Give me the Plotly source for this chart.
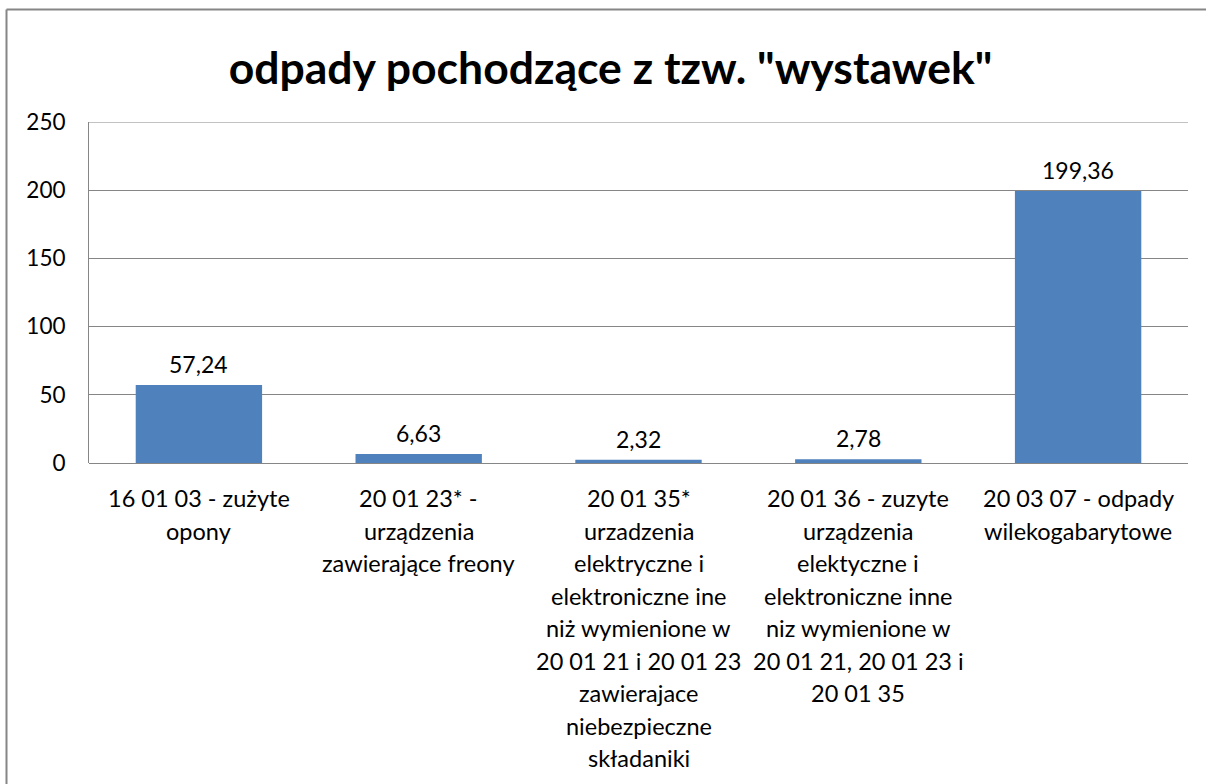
import plotly.graph_objects as go

categories = [
    "16 01 03 - zużyte<br>opony",
    "20 01 23* -<br>urządzenia<br>zawierające freony",
    "20 01 35*<br>urzadzenia<br>elektryczne i<br>elektroniczne ine<br>niż wymienione w<br>20 01 21 i 20 01 23<br>zawierajace<br>niebezpieczne<br>składaniki",
    "20 01 36 - zuzyte<br>urządzenia<br>elektyczne i<br>elektroniczne inne<br>niz wymienione w<br>20 01 21, 20 01 23 i<br>20 01 35",
    "20 03 07 - odpady<br>wilekogabarytowe",
]
values = [57.24, 6.63, 2.32, 2.78, 199.36]
title_text = 'odpady pochodzące z tzw. "wystawek"'
y_ticks = [0, 50, 100, 150, 200, 250]

FONT = "Lato"
W, H = 1206, 784
L, R, T, B = 89, 18, 122, 321
pw, ph = W - L - R, H - T - B

fig = go.Figure()
fig.add_trace(go.Bar(
    x=list(range(len(categories))),
    y=values,
    marker=dict(color="#4f81bd", line=dict(width=0)),
    width=0.575,
    hoverinfo="y",
))

annotations = []
for i, v in enumerate(values):
    annotations.append(dict(
        x=i, y=v, xref="x", yref="y", text=f"{v:.2f}".replace(".", ","),
        showarrow=False, xanchor="center", yanchor="middle", yshift=21,
        font=dict(family=FONT, size=23, color="#000000"),
    ))
for i, cat in enumerate(categories):
    for j, line in enumerate(cat.split("<br>")):
        annotations.append(dict(
            x=i, y=0, xref="x", yref="y", text=line, showarrow=False,
            xanchor="center", yanchor="middle", yshift=-(35 + 32.5 * j),
            font=dict(family=FONT, size=23.5, color="#000000"),
        ))

def px_x(px):
    return (px - L) / pw

def px_y(py):
    return (H - B - py) / ph

shapes = [
    dict(type="line", xref="paper", yref="paper", x0=px_x(6.5), x1=px_x(1215),
         y0=px_y(9.5), y1=px_y(9.5), line=dict(color="#868686", width=2)),
    dict(type="line", xref="paper", yref="paper", x0=px_x(6.5), x1=px_x(6.5),
         y0=px_y(9.5), y1=px_y(800), line=dict(color="#868686", width=2)),
    dict(type="line", xref="paper", yref="y", x0=0, x1=1,
         y0=y_ticks[-1], y1=y_ticks[-1], line=dict(color="#868686", width=1),
         layer="below"),
]

fig.update_layout(
    width=W, height=H,
    margin=dict(l=L, r=R, t=T, b=B, pad=0),
    paper_bgcolor="white", plot_bgcolor="white",
    separators=", ",
    showlegend=False,
    title=dict(text="<b>" + title_text + "</b>", x=610.5 / W, xanchor="center",
               y=1 - 68 / H, yanchor="middle", yref="container",
               font=dict(family=FONT, size=44.5, color="#000000")),
    xaxis=dict(range=[-0.5, len(categories) - 0.5], showticklabels=False,
               showgrid=False, zeroline=False, showline=False, ticks=""),
    yaxis=dict(range=[0, 250], tickvals=y_ticks, showgrid=True, gridcolor="#868686",
               gridwidth=1, zeroline=True, zerolinecolor="#868686", zerolinewidth=1,
               showline=True, linecolor="#868686", linewidth=1,
               ticks="", ticklabelstandoff=18,
               tickfont=dict(family=FONT, size=22.5, color="#000000")),
    annotations=annotations,
    shapes=shapes,
    bargap=0.43,
)

fig.write_html("out.html", config={"displayModeBar": False},
               post_script="document.body.style.margin='0px';document.body.style.overflow='hidden';")
